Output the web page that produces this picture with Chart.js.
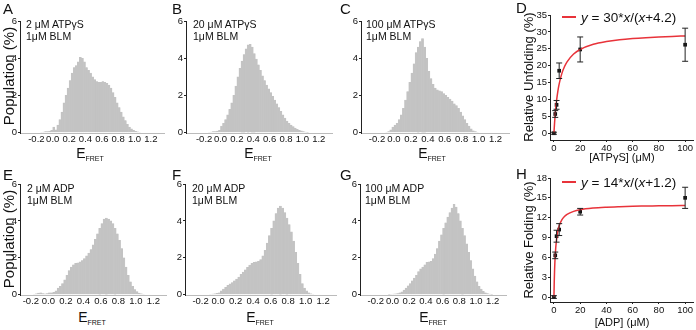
<!DOCTYPE html>
<html>
<head>
<meta charset="utf-8">
<script src="https://cdn.jsdelivr.net/npm/chart.js@4.4.1/dist/chart.umd.min.js"></script>
<style>
  body { margin: 0; background: #fff; }
  #wrap { position: relative; width: 696px; height: 330px; overflow: hidden; font-family: "Liberation Sans", Arial, sans-serif; color: #111; }
  canvas { position: absolute; }
  .t { position: absolute; white-space: nowrap; line-height: 1; }
  .lbl { font-size: 15px; }
  .note { font-size: 10.5px; line-height: 12px; }
  .ef { font-size: 14px; transform: translateX(-50%); }
  .ef sub { font-size: 7px; vertical-align: -3px; }
  .ytitle { transform: translate(-50%, -50%) rotate(-90deg); font-size: 15px; }
  .ytitle2 { transform: translate(-50%, -50%) rotate(-90deg); font-size: 13px; }
  .xt { font-size: 11px; transform: translateX(-50%); }
  .leg { font-size: 13.5px; }
  .leg i { font-style: italic; }
  .leg span.ln { display: inline-block; width: 14px; height: 2px; background: #e8333a; vertical-align: 4px; margin-right: 5px; }
</style>
</head>
<body>
<div id="wrap">
  <canvas id="cA"></canvas><canvas id="cB"></canvas><canvas id="cC"></canvas><canvas id="cD"></canvas>
  <canvas id="cE"></canvas><canvas id="cF"></canvas><canvas id="cG"></canvas><canvas id="cH"></canvas>

  <div class="t lbl" style="left:3px;top:1px">A</div>
  <div class="t lbl" style="left:172px;top:1px">B</div>
  <div class="t lbl" style="left:340px;top:1px">C</div>
  <div class="t lbl" style="left:516px;top:0px">D</div>
  <div class="t lbl" style="left:3px;top:167px">E</div>
  <div class="t lbl" style="left:172px;top:167px">F</div>
  <div class="t lbl" style="left:340px;top:167px">G</div>
  <div class="t lbl" style="left:516px;top:166px">H</div>

  <div class="t note" style="left:26px;top:18px">2 &mu;M ATP&gamma;S<br>1&mu;M BLM</div>
  <div class="t note" style="left:193px;top:18px">20 &mu;M ATP&gamma;S<br>1&mu;M BLM</div>
  <div class="t note" style="left:366px;top:18px">100 &mu;M ATP&gamma;S<br>1&mu;M BLM</div>
  <div class="t note" style="left:27px;top:182px">2 &mu;M ADP<br>1&mu;M BLM</div>
  <div class="t note" style="left:192px;top:182px">20 &mu;M ADP<br>1&mu;M BLM</div>
  <div class="t note" style="left:365px;top:182px">100 &mu;M ADP<br>1&mu;M BLM</div>

  <div class="t ytitle" style="left:8px;top:76px">Population (%)</div>
  <div class="t ytitle" style="left:8px;top:239px">Population (%)</div>
  <div class="t ytitle2" style="left:528px;top:77px">Relative Unfolding (%)</div>
  <div class="t ytitle2" style="left:528px;top:240px">Relative Folding (%)</div>

  <div class="t ef" style="left:90px;top:146px">E<sub>FRET</sub></div>
  <div class="t ef" style="left:258px;top:146px">E<sub>FRET</sub></div>
  <div class="t ef" style="left:432px;top:146px">E<sub>FRET</sub></div>
  <div class="t ef" style="left:92px;top:310px">E<sub>FRET</sub></div>
  <div class="t ef" style="left:260px;top:310px">E<sub>FRET</sub></div>
  <div class="t ef" style="left:433px;top:310px">E<sub>FRET</sub></div>
  <div class="t xt" style="left:622px;top:152px">[ATP&gamma;S] (&mu;M)</div>
  <div class="t xt" style="left:622px;top:317px">[ADP] (&mu;M)</div>

  <div class="t leg" style="left:562px;top:11px"><span class="ln"></span><i>y</i> = 30*<i>x</i>/(<i>x</i>+4.2)</div>
  <div class="t leg" style="left:562px;top:176px"><span class="ln"></span><i>y</i> = 14*<i>x</i>/(<i>x</i>+1.2)</div>
</div>
<script>
// E_FRET bin centres (bin width 0.025)
const binCenters = [-0.1875,-0.1625,-0.1375,-0.1125,-0.0875,-0.0625,-0.0375,-0.0125,
  0.0125,0.0375,0.0625,0.0875,0.1125,0.1375,0.1625,0.1875,0.2125,0.2375,0.2625,0.2875,
  0.3125,0.3375,0.3625,0.3875,0.4125,0.4375,0.4625,0.4875,0.5125,0.5375,0.5625,0.5875,
  0.6125,0.6375,0.6625,0.6875,0.7125,0.7375,0.7625,0.7875,0.8125,0.8375,0.8625,0.8875,
  0.9125,0.9375,0.9625,0.9875,1.0125,1.0375,1.0625,1.0875,1.1125,1.1375,1.1625,1.1875];

// Population (%) per bin
const popA = [0,0,0.02,0.03,0.05,0.06,0.08,0.12, 0.3,0.15,0.4,0.7,1.1,1.6,2.0,2.4,
  2.8,3.2,3.5,3.6,3.8,4.05,4.0,3.8, 3.5,3.35,3.2,3.0,2.85,2.75,2.7,2.7,
  2.75,2.7,2.65,2.55,2.4,2.15,1.9,1.6, 1.35,1.1,0.85,0.65,0.45,0.3,0.2,0.12,
  0.07,0.04,0.02,0,0,0,0,0];
const popB = [0,0,0.02,0.03,0.05,0.06,0.08,0.12, 0.35,0.5,0.7,0.95,1.25,1.6,2.0,2.5,
  3.0,3.45,3.85,4.2,4.5,4.72,4.75,4.6, 4.25,3.95,3.65,3.35,3.05,2.8,2.55,2.35,
  2.15,1.95,1.75,1.55,1.35,1.15,0.95,0.78, 0.62,0.5,0.4,0.32,0.25,0.18,0.13,0.09,
  0.06,0.03,0.01,0,0,0,0,0];
const popC = [0,0,0,0,0.02,0.05,0.15,0.3, 0.4,0.5,0.7,0.95,1.3,1.75,2.2,2.7,
  3.2,3.7,4.3,4.6,4.9,5.05,4.6,4.0, 3.3,2.9,2.6,2.4,2.3,2.25,2.2,2.1,
  2.0,1.9,1.8,1.7,1.55,1.45,1.3,1.1, 0.9,0.7,0.5,0.35,0.2,0.1,0.05,0.02,
  0,0,0,0,0,0,0,0];
const popE = [0,0.02,0.05,0.08,0.1,0.06,0.04,0.06, 0.1,0.1,0.12,0.2,0.35,0.45,0.6,0.8,
  1.05,1.3,1.5,1.62,1.7,1.72,1.78,1.85, 1.95,2.1,2.25,2.45,2.7,3.0,3.3,3.6,
  3.85,4.1,4.15,4.1,4.0,3.85,3.6,3.3, 2.95,2.5,2.0,1.5,1.05,0.7,0.45,0.28,
  0.16,0.09,0.05,0.02,0,0,0,0];
const popF = [0,0,0,0,0.02,0.03,0.05,0.07, 0.1,0.2,0.3,0.4,0.5,0.58,0.65,0.75,
  0.85,0.95,1.1,1.22,1.35,1.48,1.6,1.7, 1.75,1.78,1.8,1.9,2.1,2.4,2.8,3.2,
  3.6,4.0,4.4,4.7,4.8,4.7,4.45,4.15, 3.8,3.4,2.9,2.3,1.7,1.1,0.6,0.35,
  0.2,0.1,0.05,0.02,0,0,0,0];
const popG = [0,0,0,0,0,0,0.01,0.02, 0.03,0.04,0.06,0.1,0.15,0.25,0.35,0.48,
  0.6,0.75,0.9,1.05,1.25,1.4,1.5,1.62, 1.75,1.78,1.8,1.95,2.2,2.5,2.9,3.25,
  3.6,3.9,4.2,4.45,4.7,4.9,4.75,4.4, 4.0,3.6,3.2,2.75,2.3,1.85,1.4,1.0,
  0.7,0.45,0.3,0.18,0.1,0.06,0.03,0.01];

const histXTicks = [-0.2,0,0.2,0.4,0.6,0.8,1.0,1.2];
const histYTicks = [0,2,4,6];

// D: relative unfolding vs [ATPgS]
const atpConc = [0,1,2,4,20,100];
const unfold = [0,5.7,8.4,18.5,24.8,26.2];
const unfoldErr = [0.3,1.0,1.3,2.3,3.7,4.9];
const fitDx = [0,0.5,1,2,3,4,6,8,10,15,20,30,40,50,60,70,80,90,100];
const fitDy = [0,3.19,5.77,9.68,12.5,14.63,17.65,19.67,21.13,23.44,24.79,26.32,27.15,27.68,28.04,28.3,28.5,28.66,28.79];
const dXTicks = [0,20,40,60,80,100];
const dYTicks = [0,5,10,15,20,25,30,35];

// H: relative folding vs [ADP]
const adpConc = [0,1,2,4,20,100];
const fold = [0,6.3,9.2,10.2,12.9,15.0];
const foldErr = [0.2,0.5,0.9,0.9,0.5,1.6];
const fitHx = [0,0.25,0.5,1,2,3,4,6,8,10,15,20,30,40,50,60,70,80,90,100];
const fitHy = [0,2.41,4.12,6.36,8.75,10.0,10.77,11.67,12.17,12.5,12.96,13.21,13.46,13.59,13.67,13.73,13.76,13.79,13.82,13.83];
const hXTicks = [0,20,40,60,80,100];
const hYTicks = [0,3,6,9,12,15,18];

Chart.defaults.font.family = "'Liberation Sans', Arial, sans-serif";
Chart.defaults.font.size = 9.5;
Chart.defaults.color = '#111';
Chart.defaults.animation = false;

const errorBars = {
  id: 'errorBars',
  afterDatasetsDraw(chart) {
    const ds = chart.data.datasets.find(d => d.err);
    if (!ds) return;
    const xs = chart.scales.x, ys = chart.scales.y, ctx = chart.ctx;
    ctx.save();
    ctx.strokeStyle = '#222';
    ctx.lineWidth = 1;
    ds.data.forEach((p, i) => {
      const e = ds.err[i];
      const px = xs.getPixelForValue(p.x);
      const y1 = ys.getPixelForValue(p.y + e), y2 = ys.getPixelForValue(p.y - e);
      ctx.beginPath();
      ctx.moveTo(px, y1); ctx.lineTo(px, y2);
      ctx.moveTo(px - 3, y1); ctx.lineTo(px + 3, y1);
      ctx.moveTo(px - 3, y2); ctx.lineTo(px + 3, y2);
      ctx.stroke();
    });
    ctx.restore();
  }
};

// place canvas so that chart area lands on a = {l, t, r, b}
function setup(id, a, yw, xh) {
  const c = document.getElementById(id);
  const padT = 7, padR = 10;
  const left = a.l - yw, top = a.t - padT;
  const w = (a.r - a.l) + yw + padR, h = (a.b - a.t) + padT + xh;
  c.width = w; c.height = h;
  c.style.left = left + 'px'; c.style.top = top + 'px';
  return { ctx: c.getContext('2d'), pad: { left: 0, top: padT, right: padR, bottom: 0 } };
}

function axis(min, max, ticks, fmt, fixW, fixH, borderColor, tickLen) {
  return {
    type: 'linear', min, max,
    afterBuildTicks: s => { s.ticks = ticks.map(v => ({ value: v })); },
    afterFit: s => { if (fixW) s.width = fixW; if (fixH) s.height = fixH; },
    ticks: { callback: fmt, padding: 1, autoSkip: false, maxRotation: 0 },
    grid: { drawOnChartArea: false, drawTicks: tickLen > 0, tickLength: tickLen, color: borderColor },
    border: { display: true, color: borderColor, width: 1 }
  };
}

function hist(id, a, xmin, xmax, pop) {
  const s = setup(id, a, 14, 14);
  new Chart(s.ctx, {
    type: 'bar',
    data: {
      datasets: [{
        data: binCenters.map((x, i) => ({ x, y: pop[i] })),
        backgroundColor: '#c3c3c3',
        borderColor: '#c3c3c3',
        borderWidth: 0.4,
        barPercentage: 1.0,
        categoryPercentage: 1.0
      }]
    },
    options: {
      responsive: false,
      layout: { padding: s.pad },
      plugins: { legend: { display: false }, tooltip: { enabled: false } },
      scales: {
        x: axis(xmin, xmax, histXTicks, v => v.toFixed(1), 0, 14, '#bbb', 0),
        y: axis(-0.02, 6, histYTicks, v => v, 14, 0, '#222', 2)
      }
    }
  });
}

function fitPanel(id, a, xmin, xmax, ymin, ymax, cx, cy, err, fx, fy, xt, yt) {
  const s = setup(id, a, 16, 14);
  new Chart(s.ctx, {
    type: 'scatter',
    data: {
      datasets: [
        {
          type: 'line',
          data: fx.map((x, i) => ({ x, y: fy[i] })),
          borderColor: '#e8333a',
          borderWidth: 1.5,
          pointRadius: 0,
          cubicInterpolationMode: 'monotone',
          fill: false
        },
        {
          data: cx.map((x, i) => ({ x, y: cy[i] })),
          err,
          pointStyle: 'rect',
          pointRadius: 2.6,
          backgroundColor: '#111',
          borderColor: '#111',
          borderWidth: 0
        }
      ]
    },
    options: {
      responsive: false,
      layout: { padding: s.pad },
      plugins: { legend: { display: false }, tooltip: { enabled: false } },
      scales: {
        x: axis(xmin, xmax, xt, v => v, 0, 14, '#222', 2),
        y: axis(ymin, ymax, yt, v => v, 16, 0, '#222', 2)
      }
    },
    plugins: [errorBars]
  });
}

hist('cA', { l: 20, t: 21, r: 164, b: 133 }, -0.29, 1.25, popA);
hist('cB', { l: 186, t: 21, r: 332, b: 133 }, -0.31, 1.25, popB);
hist('cC', { l: 361, t: 21, r: 509, b: 133 }, -0.28, 1.25, popC);
hist('cE', { l: 20, t: 184, r: 166, b: 295 }, -0.22, 1.24, popE);
hist('cF', { l: 185, t: 184, r: 336, b: 295 }, -0.27, 1.24, popF);
hist('cG', { l: 360, t: 184, r: 506, b: 295 }, -0.28, 1.25, popG);

fitPanel('cD', { l: 550, t: 15, r: 693, b: 140 }, -3, 106, -2, 35,
  atpConc, unfold, unfoldErr, fitDx, fitDy, dXTicks, dYTicks);
fitPanel('cH', { l: 550, t: 178, r: 693, b: 302 }, -3, 106, -0.75, 18,
  adpConc, fold, foldErr, fitHx, fitHy, hXTicks, hYTicks);
</script>
</body>
</html>
